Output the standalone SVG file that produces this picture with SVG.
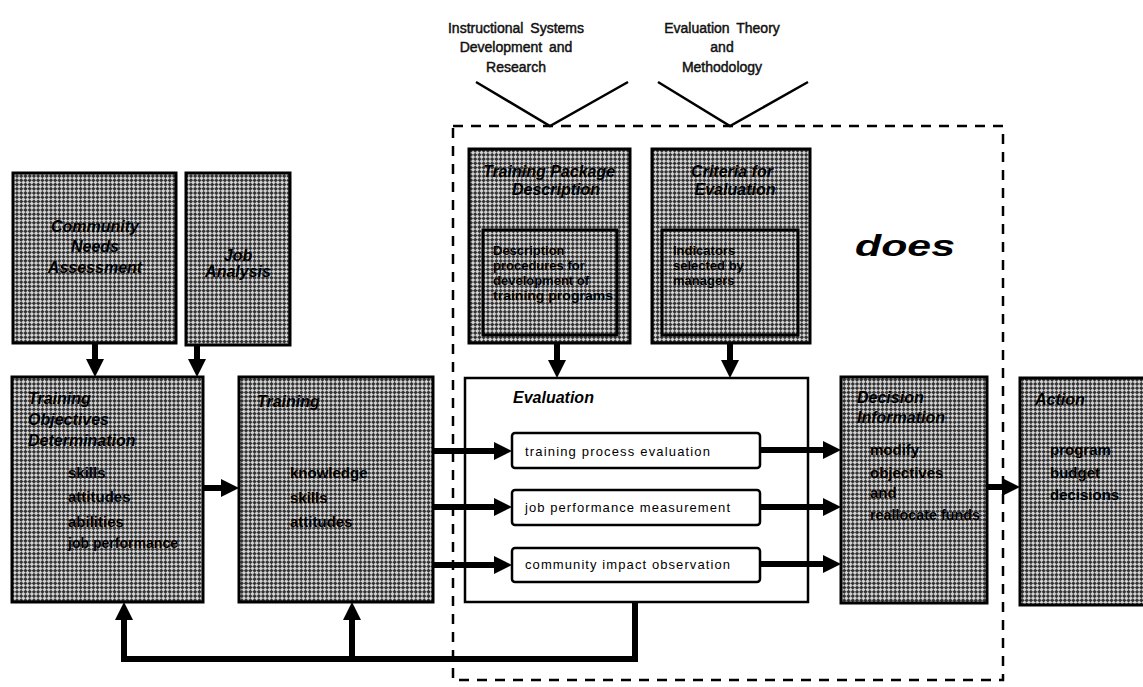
<svg xmlns="http://www.w3.org/2000/svg" width="1143" height="687" viewBox="0 0 1143 687">
<defs>
<pattern id="ht" width="6" height="6" patternUnits="userSpaceOnUse" patternTransform="rotate(45)">
<rect width="6" height="6" fill="#d2d2d2"/><rect width="3" height="3" fill="#333"/><rect x="3" y="3" width="3" height="3" fill="#333"/>
</pattern>
<marker id="ah" markerUnits="userSpaceOnUse" markerWidth="18" markerHeight="18" viewBox="0 0 18 18" refX="11" refY="9" orient="auto"><path d="M0,0 L18,9 L0,18 z" fill="#000"/></marker>
</defs>
<style>
.g{fill:url(#ht);stroke:#000;stroke-width:3}
.in{fill:none;stroke:#000;stroke-width:3}
.w{fill:#fff;stroke:#000;stroke-width:2.5}
.sb{fill:#fff;stroke:#000;stroke-width:2.5}
text{font-family:"Liberation Sans",Arial,sans-serif;fill:#000}
.top{font-size:14px;text-anchor:middle;fill:#111;stroke:#111;stroke-width:0.45;word-spacing:3px}
.bt{font-size:16px;font-weight:bold;font-style:italic}
.bx{font-size:15px;font-weight:bold}
.ib{font-size:13px;font-weight:bold}
.c{text-anchor:middle}
.ev{font-size:16px;font-weight:bold;font-style:italic}
.st{font-size:13px}
.does{font-size:30px;font-weight:bold;font-style:italic}
.cn{fill:none;stroke:#000;stroke-width:6;marker-end:url(#ah)}
.dash{fill:none;stroke:#000;stroke-width:2.5;stroke-dasharray:10 8}
.v{fill:none;stroke:#000;stroke-width:2.5}
</style>

<g id="sources">
<text class="top" x="516" y="33">Instructional Systems</text>
<text class="top" x="516" y="52">Development and</text>
<text class="top" x="516" y="72">Research</text>
<text class="top" x="722" y="33">Evaluation Theory</text>
<text class="top" x="722" y="52">and</text>
<text class="top" x="722" y="72">Methodology</text>
<polyline class="v" points="476,82 550,126 628,82"/>
<polyline class="v" points="658,82 730,126 808,82"/>
</g>

<g id="scope">
<rect class="dash" x="453" y="126" width="550" height="554"/>
<text class="does" x="855" y="256" textLength="100" lengthAdjust="spacingAndGlyphs">does</text>
</g>

<g id="community-needs">
<rect class="g" x="13" y="173" width="163" height="170"/>
<text class="bt c" x="95" y="232">Community</text>
<text class="bt c" x="95" y="252">Needs</text>
<text class="bt c" x="95" y="273">Assessment</text>
</g>

<g id="job-analysis">
<rect class="g" x="186" y="173" width="104" height="172"/>
<text class="bt c" x="238" y="261">Job</text>
<text class="bt c" x="238" y="277">Analysis</text>
</g>

<g id="training-objectives">
<rect class="g" x="12" y="377" width="191" height="225"/>
<text class="bt" x="28" y="404">Training</text>
<text class="bt" x="28" y="425">Objectives</text>
<text class="bt" x="28" y="446">Determination</text>
<text class="bx" x="68" y="478">skills</text>
<text class="bx" x="68" y="502">attitudes</text>
<text class="bx" x="68" y="527">abilities</text>
<text class="bx" x="68" y="548" textLength="110" lengthAdjust="spacingAndGlyphs">job performance</text>
</g>

<g id="training">
<rect class="g" x="239" y="377" width="194" height="225"/>
<text class="bt" x="257" y="407">Training</text>
<text class="bx" x="290" y="478">knowledge</text>
<text class="bx" x="290" y="503">skills</text>
<text class="bx" x="290" y="527">attitudes</text>
</g>

<g id="training-package">
<rect class="g" x="469" y="149" width="161" height="194"/>
<rect class="in" x="483" y="230" width="134" height="105"/>
<text class="bt c" x="549" y="177">Training Package</text>
<text class="bt c" x="556" y="195">Description</text>
<text class="ib" x="493" y="255">Description</text>
<text class="ib" x="493" y="270">procedures for</text>
<text class="ib" x="493" y="285">development of</text>
<text class="ib" x="493" y="300" textLength="120" lengthAdjust="spacingAndGlyphs">training programs</text>
</g>

<g id="criteria">
<rect class="g" x="652" y="149" width="158" height="194"/>
<rect class="in" x="662" y="230" width="136" height="105"/>
<text class="bt c" x="732" y="177">Criteria for</text>
<text class="bt c" x="735" y="195">Evaluation</text>
<text class="ib" x="673" y="255">Indicators</text>
<text class="ib" x="673" y="270">selected by</text>
<text class="ib" x="673" y="285">managers</text>
</g>

<g id="evaluation">
<rect class="w" x="465" y="378" width="343" height="224"/>
<text class="ev" x="513" y="403">Evaluation</text>
</g>
<g id="training-process-evaluation">
<rect class="sb" x="512" y="433" width="248" height="35" rx="3"/>
<text class="st" x="525" y="456" textLength="185" lengthAdjust="spacing">training process evaluation</text>
</g>
<g id="job-performance-measurement">
<rect class="sb" x="512" y="490" width="248" height="35" rx="3"/>
<text class="st" x="525" y="512" textLength="205" lengthAdjust="spacing">job performance measurement</text>
</g>
<g id="community-impact-observation">
<rect class="sb" x="512" y="548" width="248" height="34" rx="3"/>
<text class="st" x="525" y="569" textLength="205" lengthAdjust="spacing">community impact observation</text>
</g>

<g id="decision-information">
<rect class="g" x="841" y="377" width="146" height="226"/>
<text class="bt" x="857" y="403">Decision</text>
<text class="bt" x="857" y="423">Information</text>
<text class="bx" x="870" y="455">modify</text>
<text class="bx" x="870" y="478">objectives</text>
<text class="bx" x="870" y="498">and</text>
<text class="bx" x="870" y="520" textLength="110" lengthAdjust="spacingAndGlyphs">reallocate funds</text>
</g>

<g id="action">
<rect class="g" x="1020" y="378" width="130" height="227"/>
<text class="bt" x="1035" y="405">Action</text>
<text class="bx" x="1050" y="455">program</text>
<text class="bx" x="1050" y="478">budget</text>
<text class="bx" x="1050" y="500">decisions</text>
</g>

<g id="connectors">
<path class="cn" d="M95,343 V370"/>
<path class="cn" d="M197,345 V370"/>
<path class="cn" d="M557,343 V371"/>
<path class="cn" d="M730,343 V371"/>
<path class="cn" d="M203,488 H232"/>
<path class="cn" d="M433,451 H505"/>
<path class="cn" d="M433,507 H505"/>
<path class="cn" d="M433,565 H505"/>
<path class="cn" d="M760,450 H834"/>
<path class="cn" d="M760,507 H834"/>
<path class="cn" d="M760,564 H834"/>
<path class="cn" d="M987,487 H1013"/>
<path class="cn" d="M635,602 V659 H124 V609"/>
<path class="cn" d="M352,659 V609"/>
</g>
</svg>
